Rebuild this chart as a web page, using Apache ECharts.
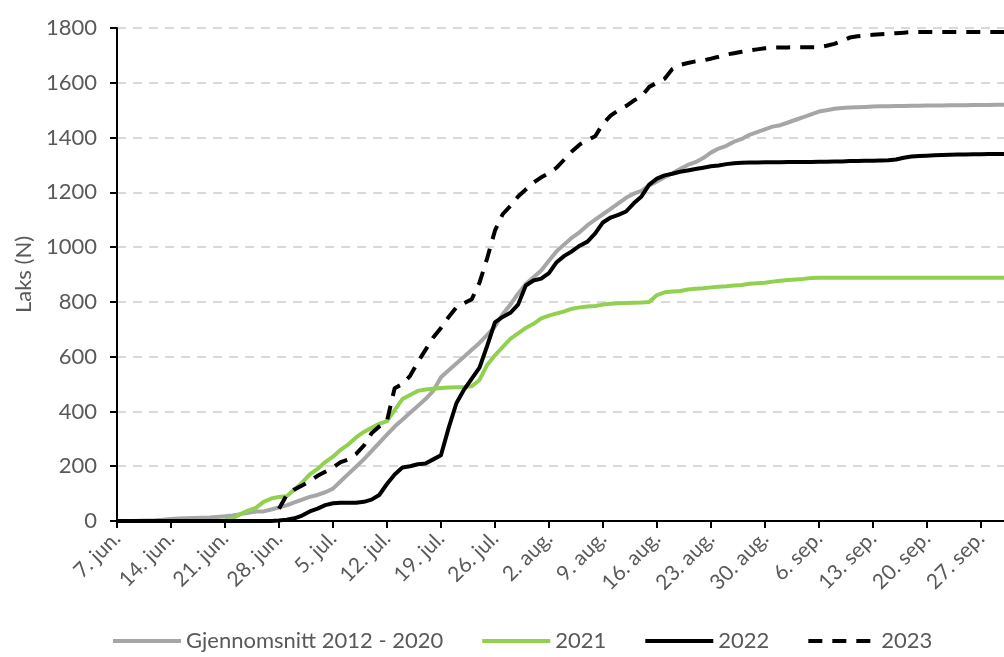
<!DOCTYPE html>
<html>
<head>
<meta charset="utf-8">
<script src="https://cdn.jsdelivr.net/npm/echarts@6/dist/echarts.min.js"></script>
<style>
  html, body { margin: 0; padding: 0; background: #fff; }
  #chart { width: 1004px; height: 657px; }
</style>
</head>
<body>
<div id="chart"></div>
<script>
// daily counts from 7. jun. to 30. sep.
const monthNames = ["jan.", "feb.", "mar.", "apr.", "mai", "jun.", "jul.", "aug.", "sep.", "okt.", "nov.", "des."];
const dayCount = 116;
const days = [];
for (let i = 0; i < dayCount; i++) {
  const d = new Date(2023, 5, 7 + i);
  days.push(d.getDate() + ". " + monthNames[d.getMonth()]);
}

const seriesNames = ["Gjennomsnitt 2012 - 2020", "2021", "2022", "2023"];

const avg2012_2020 = [
  0, 0, 0, 1, 2, 3, 5, 7, 9, 10,
  11, 12, 13, 15, 17, 20, 25, 30, 35, 35,
  42, 50, 57, 68, 78, 88, 95, 105, 118, 145,
  172, 198, 225, 255, 285, 315, 345, 370, 395, 420,
  445, 475, 525, 550, 575, 600, 625, 650, 680, 710,
  755, 790, 830, 865, 890, 915, 950, 985, 1010, 1035,
  1055, 1080, 1100, 1120, 1140, 1160, 1180, 1195, 1205, 1225,
  1240, 1255, 1270, 1285, 1300, 1310, 1325, 1345, 1360, 1370,
  1385, 1395, 1410, 1420, 1430, 1440, 1445, 1455, 1465, 1475,
  1485, 1495, 1500, 1505, 1508, 1510, 1511, 1512, 1513, 1514,
  1514, 1515, 1515, 1516, 1516, 1517, 1517, 1517, 1518, 1518,
  1518, 1519, 1519, 1519, 1520, 1520
];

const y2021 = [
  0, 0, 0, 0, 0, 0, 0, 0, 0, 0,
  0, 0, 0, 0, 2, 10, 25, 38, 48, 70,
  82, 88, 90, 115, 140, 170, 190, 215, 235, 260,
  280, 305, 325, 340, 355, 365, 405, 445, 460, 475,
  480, 483, 486, 487, 488, 489, 492, 515, 570, 605,
  635, 665, 685, 705, 720, 740, 750, 758, 765, 775,
  780, 783, 785, 790, 793, 795, 796, 797, 798, 800,
  825, 835, 838, 840, 845, 848, 850, 853, 855, 857,
  860, 862, 866, 868, 870, 874, 877, 880, 882, 884,
  887, 888, 888, 888, 888, 888, 888, 888, 888, 888,
  888, 888, 888, 888, 888, 888, 888, 888, 888, 888,
  888, 888, 888, 888, 888, 888
];

const y2022 = [
  0, 0, 0, 0, 0, 0, 0, 0, 0, 0,
  0, 0, 0, 0, 0, 0, 0, 0, 0, 0,
  0, 2, 5, 10, 20, 35, 45, 58, 65, 67,
  67, 67, 70, 78, 95, 135, 170, 195, 200, 207,
  210, 225, 240, 340, 430, 480, 520, 560, 640, 725,
  745, 760, 790, 860, 878, 885, 905, 945, 968, 985,
  1005, 1020, 1050, 1090, 1108, 1118, 1130, 1160, 1185, 1228,
  1250, 1262, 1268, 1275, 1280, 1285, 1290, 1295, 1298, 1303,
  1306, 1308, 1309, 1309, 1310, 1310, 1310, 1311, 1311, 1311,
  1311, 1312, 1312, 1313, 1313, 1314, 1314, 1315, 1315, 1316,
  1317, 1320, 1326, 1331, 1333, 1334, 1335, 1336, 1337, 1338,
  1338, 1339, 1339, 1340, 1340, 1340
];

const y2023 = [
  null, null, null, null, null, null, null, null, null, null,
  null, null, null, null, null, null, null, null, null, null,
  null, 45, 95, 115, 130, 145, 165, 180, 195, 215,
  225, 245, 275, 320, 345, 365, 485, 500, 530, 580,
  625, 670, 705, 745, 780, 795, 810, 870, 960, 1060,
  1120, 1150, 1185, 1210, 1235, 1255, 1270, 1290, 1320, 1350,
  1375, 1390, 1405, 1450, 1480, 1500, 1515, 1535, 1550, 1585,
  1600, 1615, 1650, 1665, 1672, 1678, 1682, 1688, 1695, 1703,
  1708, 1713, 1718, 1722, 1726, 1728, 1729, 1729, 1730, 1730,
  1730, 1730, 1735, 1742, 1752, 1765, 1770, 1773, 1775, 1777,
  1779, 1781, 1783, 1785, 1785, 1785, 1785, 1785, 1785, 1785,
  1785, 1785, 1785, 1785, 1785, 1785
];

const textColor = "#595959";
const fontName = "Lato";

var chart = echarts.init(document.getElementById("chart"));

function lineSeries(name, data, color, dashed) {
  return {
    name: name,
    type: "line",
    data: data,
    symbol: "none",
    connectNulls: false,
    lineStyle: {
      color: color,
      width: 4,
      type: dashed ? [14, 10] : "solid",
      join: "round",
    },
    itemStyle: { color: color },
  };
}

chart.setOption({
  animation: false,
  textStyle: { fontFamily: fontName },
  grid: { left: 117, right: 0, top: 28, bottom: 136, containLabel: false },
  legend: {
    bottom: 0,
    left: 106,
    itemWidth: 68,
    itemHeight: 14,
    itemGap: 37,
    itemStyle: { color: "transparent", borderWidth: 0, opacity: 0 },
    lineStyle: { width: 4 },
    textStyle: { color: textColor, fontSize: 22, fontFamily: fontName },
    data: seriesNames,
  },
  xAxis: {
    type: "category",
    data: days,
    boundaryGap: false,
    axisLine: { lineStyle: { color: "#000", width: 2 } },
    axisTick: { interval: 6, length: 7, lineStyle: { color: "#000", width: 2 } },
    axisLabel: {
      interval: 6,
      rotate: 45,
      margin: 14,
      color: textColor,
      fontSize: 21,
      fontFamily: fontName,
    },
    splitLine: { show: false },
  },
  yAxis: {
    type: "value",
    min: 0,
    max: 1800,
    interval: 200,
    name: "Laks (N)",
    nameLocation: "middle",
    nameGap: 80,
    nameTextStyle: { color: textColor, fontSize: 22, fontFamily: fontName },
    axisLine: { show: true, lineStyle: { color: "#000", width: 2 } },
    axisTick: { show: true, length: 7, lineStyle: { color: "#000", width: 2 } },
    axisLabel: {
      margin: 20,
      color: textColor,
      fontSize: 22,
      fontFamily: fontName,
      formatter: function (v) { return String(v); },
    },
    splitLine: { lineStyle: { color: "#D9D9D9", width: 2, type: [9, 7] } },
  },
  series: [
    lineSeries(seriesNames[0], avg2012_2020, "#A6A6A6", false),
    lineSeries(seriesNames[1], y2021, "#92D050", false),
    lineSeries(seriesNames[2], y2022, "#000000", false),
    lineSeries(seriesNames[3], y2023, "#000000", true),
  ],
});
</script>
</body>
</html>
